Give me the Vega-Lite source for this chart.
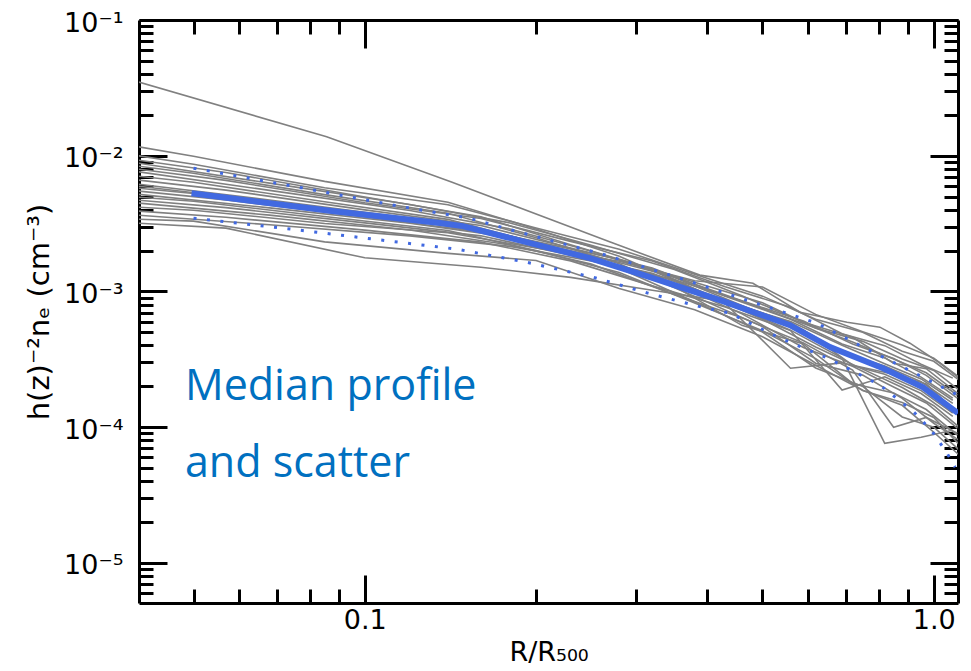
{
  "$schema": "https://vega.github.io/schema/vega-lite/v6.json",
  "width": 819,
  "height": 583,
  "autosize": {"type": "none"},
  "padding": {"left": 139, "top": 20, "right": 13, "bottom": 68},
  "background": "white",
  "config": {
    "view": {"stroke": null},
    "axis": {
      "grid": false,
      "domainColor": "black",
      "domainWidth": 3,
      "tickColor": "black",
      "tickWidth": 3,
      "labelColor": "black",
      "titleColor": "black",
      "labelFont": "DejaVu Sans",
      "titleFont": "DejaVu Sans",
      "labelFontSize": 27,
      "titleFontSize": 27,
      "titleFontWeight": "normal",
      "labelFlush": false,
      "labelOverlap": false,
      "zindex": 1
    }
  },
  "datasets": {
    "profiles": [
      {"p":0,"x":0.04,"y":3.5e-2},{"p":0,"x":0.0857,"y":1.38e-2},{"p":0,"x":0.142,"y":6.4e-3},{"p":0,"x":0.27,"y":2.31e-3},{"p":0,"x":0.388,"y":1.32e-3},{"p":0,"x":0.481,"y":1.15e-3},{"p":0,"x":0.582,"y":7.04e-4},{"p":0,"x":0.704,"y":5.94e-4},{"p":0,"x":0.804,"y":5.46e-4},{"p":0,"x":0.908,"y":4.16e-4},{"p":0,"x":1.026,"y":2.96e-4},{"p":0,"x":1.12,"y":2.22e-4},
      {"p":1,"x":0.04,"y":1.0e-2},{"p":1,"x":0.05,"y":8.65e-3},{"p":1,"x":0.085,"y":5.81e-3},{"p":1,"x":0.14,"y":4.35e-3},{"p":1,"x":0.2,"y":2.94e-3},{"p":1,"x":0.28,"y":2.05e-3},{"p":1,"x":0.38,"y":1.34e-3},{"p":1,"x":0.5,"y":9.24e-4},{"p":1,"x":0.62,"y":6.25e-4},{"p":1,"x":0.75,"y":5.01e-4},{"p":1,"x":0.88,"y":3.63e-4},{"p":1,"x":1.0,"y":3.06e-4},{"p":1,"x":1.12,"y":2.15e-4},
      {"p":2,"x":0.04,"y":9.28e-3},{"p":2,"x":0.057,"y":7.52e-3},{"p":2,"x":0.1,"y":4.97e-3},{"p":2,"x":0.16,"y":3.55e-3},{"p":2,"x":0.23,"y":2.21e-3},{"p":2,"x":0.32,"y":1.46e-3},{"p":2,"x":0.43,"y":8.28e-4},{"p":2,"x":0.56,"y":5.19e-4},{"p":2,"x":0.69,"y":3.23e-4},{"p":2,"x":0.82,"y":7.62e-5},{"p":2,"x":0.95,"y":8.44e-5},{"p":2,"x":1.08,"y":9.5e-5},
      {"p":3,"x":0.04,"y":8.82e-3},{"p":3,"x":0.068,"y":6.28e-3},{"p":3,"x":0.12,"y":4.37e-3},{"p":3,"x":0.18,"y":3.2e-3},{"p":3,"x":0.25,"y":2.19e-3},{"p":3,"x":0.35,"y":1.45e-3},{"p":3,"x":0.46,"y":9.3e-4},{"p":3,"x":0.59,"y":5.94e-4},{"p":3,"x":0.72,"y":4.6e-4},{"p":3,"x":0.85,"y":2.96e-4},{"p":3,"x":0.97,"y":2.7e-4},{"p":3,"x":1.1,"y":1.78e-4},
      {"p":4,"x":0.04,"y":8.38e-3},{"p":4,"x":0.05,"y":7.42e-3},{"p":4,"x":0.085,"y":5.17e-3},{"p":4,"x":0.14,"y":3.77e-3},{"p":4,"x":0.2,"y":2.49e-3},{"p":4,"x":0.28,"y":1.6e-3},{"p":4,"x":0.38,"y":9.17e-4},{"p":4,"x":0.5,"y":5.51e-4},{"p":4,"x":0.62,"y":2.96e-4},{"p":4,"x":0.75,"y":2.42e-4},{"p":4,"x":0.88,"y":1.63e-4},{"p":4,"x":1.0,"y":1.07e-4},{"p":4,"x":1.12,"y":7.76e-5},
      {"p":5,"x":0.04,"y":7.97e-3},{"p":5,"x":0.057,"y":6.58e-3},{"p":5,"x":0.1,"y":4.5e-3},{"p":5,"x":0.16,"y":3.45e-3},{"p":5,"x":0.23,"y":2.34e-3},{"p":5,"x":0.32,"y":1.68e-3},{"p":5,"x":0.43,"y":1.085e-3},{"p":5,"x":0.56,"y":7.66e-4},{"p":5,"x":0.69,"y":4.89e-4},{"p":5,"x":0.82,"y":3.99e-4},{"p":5,"x":0.95,"y":2.91e-4},{"p":5,"x":1.08,"y":2.3e-4},
      {"p":6,"x":0.04,"y":7.61e-3},{"p":6,"x":0.068,"y":5.56e-3},{"p":6,"x":0.12,"y":3.95e-3},{"p":6,"x":0.18,"y":2.89e-3},{"p":6,"x":0.25,"y":1.98e-3},{"p":6,"x":0.35,"y":1.27e-3},{"p":6,"x":0.46,"y":7.87e-4},{"p":6,"x":0.59,"y":5.2e-4},{"p":6,"x":0.72,"y":2.86e-4},{"p":6,"x":0.85,"y":2.46e-4},{"p":6,"x":0.97,"y":2.08e-4},{"p":6,"x":1.1,"y":1.27e-4},
      {"p":7,"x":0.04,"y":7.07e-3},{"p":7,"x":0.05,"y":6.37e-3},{"p":7,"x":0.085,"y":4.58e-3},{"p":7,"x":0.14,"y":3.4e-3},{"p":7,"x":0.2,"y":2.28e-3},{"p":7,"x":0.28,"y":1.48e-3},{"p":7,"x":0.38,"y":8.41e-4},{"p":7,"x":0.5,"y":5.02e-4},{"p":7,"x":0.62,"y":2.73e-4},{"p":7,"x":0.75,"y":2.0e-4},{"p":7,"x":0.88,"y":1.19e-4},{"p":7,"x":1.0,"y":1.0e-4},{"p":7,"x":1.12,"y":6.54e-5},
      {"p":8,"x":0.04,"y":6.62e-3},{"p":8,"x":0.057,"y":5.58e-3},{"p":8,"x":0.1,"y":3.99e-3},{"p":8,"x":0.16,"y":3.06e-3},{"p":8,"x":0.23,"y":2.09e-3},{"p":8,"x":0.32,"y":1.49e-3},{"p":8,"x":0.43,"y":9.24e-4},{"p":8,"x":0.56,"y":6.25e-4},{"p":8,"x":0.69,"y":4.11e-4},{"p":8,"x":0.82,"y":3.24e-4},{"p":8,"x":0.95,"y":2.34e-4},{"p":8,"x":1.08,"y":1.64e-4},
      {"p":9,"x":0.04,"y":6.18e-3},{"p":9,"x":0.068,"y":4.72e-3},{"p":9,"x":0.12,"y":3.47e-3},{"p":9,"x":0.18,"y":2.57e-3},{"p":9,"x":0.25,"y":1.77e-3},{"p":9,"x":0.35,"y":1.14e-3},{"p":9,"x":0.46,"y":6.84e-4},{"p":9,"x":0.59,"y":3.87e-4},{"p":9,"x":0.72,"y":2.81e-4},{"p":9,"x":0.85,"y":1.98e-4},{"p":9,"x":0.97,"y":1.51e-4},{"p":9,"x":1.1,"y":9.83e-5},
      {"p":10,"x":0.04,"y":5.77e-3},{"p":10,"x":0.05,"y":5.27e-3},{"p":10,"x":0.085,"y":3.98e-3},{"p":10,"x":0.14,"y":3.2e-3},{"p":10,"x":0.2,"y":2.33e-3},{"p":10,"x":0.28,"y":1.73e-3},{"p":10,"x":0.38,"y":1.17e-3},{"p":10,"x":0.5,"y":8.27e-4},{"p":10,"x":0.62,"y":5.39e-4},{"p":10,"x":0.75,"y":4.29e-4},{"p":10,"x":0.88,"y":3.18e-4},{"p":10,"x":1.0,"y":2.62e-4},{"p":10,"x":1.12,"y":1.81e-4},
      {"p":11,"x":0.04,"y":5.49e-3},{"p":11,"x":0.057,"y":4.73e-3},{"p":11,"x":0.1,"y":3.54e-3},{"p":11,"x":0.16,"y":2.74e-3},{"p":11,"x":0.23,"y":1.89e-3},{"p":11,"x":0.32,"y":1.34e-3},{"p":11,"x":0.43,"y":8.15e-4},{"p":11,"x":0.56,"y":2.72e-4},{"p":11,"x":0.69,"y":2.98e-4},{"p":11,"x":0.82,"y":2.46e-4},{"p":11,"x":0.95,"y":1.86e-4},{"p":11,"x":1.08,"y":1.27e-4},
      {"p":12,"x":0.04,"y":5.2e-3},{"p":12,"x":0.068,"y":4.13e-3},{"p":12,"x":0.12,"y":3.18e-3},{"p":12,"x":0.18,"y":2.51e-3},{"p":12,"x":0.25,"y":1.85e-3},{"p":12,"x":0.35,"y":1.28e-3},{"p":12,"x":0.46,"y":8.55e-4},{"p":12,"x":0.59,"y":6.06e-4},{"p":12,"x":0.72,"y":4.1e-4},{"p":12,"x":0.85,"y":3.21e-4},{"p":12,"x":0.97,"y":2.41e-4},{"p":12,"x":1.1,"y":1.64e-4},
      {"p":13,"x":0.04,"y":4.95e-3},{"p":13,"x":0.05,"y":4.62e-3},{"p":13,"x":0.085,"y":3.57e-3},{"p":13,"x":0.14,"y":2.81e-3},{"p":13,"x":0.2,"y":2.0e-3},{"p":13,"x":0.28,"y":1.38e-3},{"p":13,"x":0.38,"y":8.22e-4},{"p":13,"x":0.5,"y":5.14e-4},{"p":13,"x":0.62,"y":3.2e-4},{"p":13,"x":0.75,"y":1.86e-4},{"p":13,"x":0.88,"y":1.52e-4},{"p":13,"x":1.0,"y":1.18e-4},{"p":13,"x":1.12,"y":7.12e-5},
      {"p":14,"x":0.04,"y":4.7e-3},{"p":14,"x":0.057,"y":4.15e-3},{"p":14,"x":0.1,"y":3.2e-3},{"p":14,"x":0.16,"y":2.57e-3},{"p":14,"x":0.23,"y":1.85e-3},{"p":14,"x":0.32,"y":1.36e-3},{"p":14,"x":0.43,"y":8.6e-4},{"p":14,"x":0.56,"y":5.89e-4},{"p":14,"x":0.69,"y":3.55e-4},{"p":14,"x":0.82,"y":2.82e-4},{"p":14,"x":0.95,"y":2.16e-4},{"p":14,"x":1.08,"y":1.5e-4},
      {"p":15,"x":0.04,"y":4.48e-3},{"p":15,"x":0.068,"y":3.65e-3},{"p":15,"x":0.12,"y":2.84e-3},{"p":15,"x":0.18,"y":2.2e-3},{"p":15,"x":0.25,"y":1.59e-3},{"p":15,"x":0.35,"y":9.5e-4},{"p":15,"x":0.46,"y":6.4e-4},{"p":15,"x":0.59,"y":4.18e-4},{"p":15,"x":0.72,"y":2.64e-4},{"p":15,"x":0.85,"y":1.0e-4},{"p":15,"x":0.97,"y":1.18e-4},{"p":15,"x":1.1,"y":9.03e-5},
      {"p":16,"x":0.04,"y":4.18e-3},{"p":16,"x":0.05,"y":3.97e-3},{"p":16,"x":0.085,"y":3.17e-3},{"p":16,"x":0.14,"y":2.71e-3},{"p":16,"x":0.2,"y":2.09e-3},{"p":16,"x":0.28,"y":1.67e-3},{"p":16,"x":0.38,"y":1.2e-3},{"p":16,"x":0.5,"y":1.08e-3},{"p":16,"x":0.62,"y":6.78e-4},{"p":16,"x":0.75,"y":5.05e-4},{"p":16,"x":0.88,"y":4.04e-4},{"p":16,"x":1.0,"y":3.23e-4},{"p":16,"x":1.12,"y":2.26e-4},
      {"p":17,"x":0.04,"y":3.91e-3},{"p":17,"x":0.057,"y":3.52e-3},{"p":17,"x":0.1,"y":2.83e-3},{"p":17,"x":0.16,"y":2.31e-3},{"p":17,"x":0.23,"y":1.68e-3},{"p":17,"x":0.32,"y":1.1e-3},{"p":17,"x":0.43,"y":7.7e-4},{"p":17,"x":0.56,"y":5.15e-4},{"p":17,"x":0.69,"y":1.88e-4},{"p":17,"x":0.82,"y":2.35e-4},{"p":17,"x":0.95,"y":1.77e-4},{"p":17,"x":1.08,"y":1.2e-4},
      {"p":18,"x":0.04,"y":3.65e-3},{"p":18,"x":0.068,"y":3.1e-3},{"p":18,"x":0.12,"y":2.57e-3},{"p":18,"x":0.18,"y":2.15e-3},{"p":18,"x":0.25,"y":1.68e-3},{"p":18,"x":0.35,"y":1.22e-3},{"p":18,"x":0.46,"y":8.52e-4},{"p":18,"x":0.59,"y":5.8e-4},{"p":18,"x":0.72,"y":4.25e-4},{"p":18,"x":0.85,"y":3.18e-4},{"p":18,"x":0.97,"y":2.52e-4},{"p":18,"x":1.1,"y":1.72e-4},
      {"p":19,"x":0.04,"y":3.41e-3},{"p":19,"x":0.05,"y":3.3e-3},{"p":19,"x":0.085,"y":2.32e-3},{"p":19,"x":0.14,"y":1.91e-3},{"p":19,"x":0.2,"y":1.69e-3},{"p":19,"x":0.28,"y":1.05e-3},{"p":19,"x":0.38,"y":7.33e-4},{"p":19,"x":0.5,"y":4.64e-4},{"p":19,"x":0.62,"y":2.86e-4},{"p":19,"x":0.75,"y":1.87e-4},{"p":19,"x":0.88,"y":1.45e-4},{"p":19,"x":1.0,"y":9.18e-5},{"p":19,"x":1.12,"y":6.0e-5},
      {"p":20,"x":0.04,"y":3.18e-3},{"p":20,"x":0.057,"y":2.93e-3},{"p":20,"x":0.1,"y":1.77e-3},{"p":20,"x":0.16,"y":1.51e-3},{"p":20,"x":0.23,"y":1.27e-3},{"p":20,"x":0.32,"y":1.02e-3},{"p":20,"x":0.43,"y":8.46e-4},{"p":20,"x":0.56,"y":6.0e-4},{"p":20,"x":0.69,"y":4.01e-4},{"p":20,"x":0.82,"y":2.94e-4},{"p":20,"x":0.95,"y":2.27e-4},{"p":20,"x":1.08,"y":1.58e-4},
      {"p":21,"x":0.04,"y":5.97e-3},{"p":21,"x":0.068,"y":4.6e-3},{"p":21,"x":0.12,"y":3.38e-3},{"p":21,"x":0.18,"y":2.5e-3},{"p":21,"x":0.25,"y":1.72e-3},{"p":21,"x":0.35,"y":1.09e-3},{"p":21,"x":0.46,"y":5.63e-4},{"p":21,"x":0.59,"y":4.11e-4},{"p":21,"x":0.72,"y":2.1e-4},{"p":21,"x":0.85,"y":1.79e-4},{"p":21,"x":0.97,"y":1.35e-4},{"p":21,"x":1.1,"y":8.74e-5},
      {"p":22,"x":0.04,"y":1.165e-2},{"p":22,"x":0.05,"y":9.9e-3},{"p":22,"x":0.085,"y":6.47e-3},{"p":22,"x":0.14,"y":4.55e-3},{"p":22,"x":0.2,"y":2.89e-3},{"p":22,"x":0.28,"y":1.82e-3},{"p":22,"x":0.38,"y":1.04e-3},{"p":22,"x":0.5,"y":6.25e-4},{"p":22,"x":0.62,"y":3.9e-4},{"p":22,"x":0.75,"y":2.68e-4},{"p":22,"x":0.88,"y":1.96e-4},{"p":22,"x":1.0,"y":1.44e-4},{"p":22,"x":1.12,"y":9.66e-5}
    ],
    "median": [
      {"x":0.0496,"y":5.3e-3},{"x":0.0875,"y":3.91e-3},{"x":0.1355,"y":3.19e-3},{"x":0.1487,"y":3.03e-3},{"x":0.1777,"y":2.51e-3},{"x":0.2486,"y":1.76e-3},{"x":0.317,"y":1.274e-3},{"x":0.4209,"y":8.63e-4},{"x":0.5588,"y":5.65e-4},{"x":0.6571,"y":3.89e-4},{"x":0.8144,"y":2.72e-4},{"x":0.9576,"y":1.97e-4},{"x":1.103,"y":1.27e-4}
    ],
    "scatter": [
      {"band":"upper","x":0.05,"y":8.1e-3},{"band":"upper","x":0.0781,"y":5.77e-3},{"band":"upper","x":0.1148,"y":4.25e-3},{"band":"upper","x":0.1524,"y":3.47e-3},{"band":"upper","x":0.1896,"y":2.69e-3},{"band":"upper","x":0.2622,"y":1.88e-3},{"band":"upper","x":0.3624,"y":1.232e-3},{"band":"upper","x":0.4753,"y":8.48e-4},{"band":"upper","x":0.6233,"y":5.84e-4},{"band":"upper","x":0.7633,"y":3.76e-4},{"band":"upper","x":0.927,"y":2.5e-4},{"band":"upper","x":1.103,"y":1.72e-4},
      {"band":"lower","x":0.05,"y":3.47e-3},{"band":"lower","x":0.0741,"y":2.88e-3},{"band":"lower","x":0.1037,"y":2.43e-3},{"band":"lower","x":0.1451,"y":2.05e-3},{"band":"lower","x":0.1927,"y":1.64e-3},{"band":"lower","x":0.2517,"y":1.274e-3},{"band":"lower","x":0.3145,"y":9.72e-4},{"band":"lower","x":0.3914,"y":7.66e-4},{"band":"lower","x":0.4384,"y":6.92e-4},{"band":"lower","x":0.5323,"y":4.61e-4},{"band":"lower","x":0.6571,"y":3.17e-4},{"band":"lower","x":0.8048,"y":2.04e-4},{"band":"lower","x":0.9196,"y":1.31e-4},{"band":"lower","x":0.9931,"y":9.34e-5},{"band":"lower","x":1.0554,"y":6.43e-5},{"band":"lower","x":1.09,"y":5.07e-5}
    ],
    "note": [
      {"x":0.0483,"y":1.58e-4,"label":"Median profile\nand scatter"}
    ]
  },
  "layer": [
    {
      "data": {"name": "profiles"},
      "mark": {"type": "line", "color": "#808080", "strokeWidth": 1.6, "clip": true},
      "encoding": {
        "x": {"field": "x", "type": "quantitative",
          "scale": {"type": "log", "domain": [0.0401, 1.103], "nice": false},
          "axis": {"orient": "bottom", "values": [0.1, 1], "format": ".1f", "tickSize": -28, "labelPadding": 32, "title": "R/R₅₀₀", "titleY": 57, "titleBaseline": "alphabetic"}},
        "y": {"field": "y", "type": "quantitative",
          "scale": {"type": "log", "domain": [5.07e-6, 0.1], "nice": false},
          "axis": {"orient": "left", "values": [1e-5, 1e-4, 1e-3, 1e-2, 1e-1],
            "labelExpr": "datum.value > 0.05 ? '10⁻¹' : datum.value > 0.005 ? '10⁻²' : datum.value > 0.0005 ? '10⁻³' : datum.value > 0.00005 ? '10⁻⁴' : '10⁻⁵'",
            "tickSize": -28, "labelPadding": 44, "labelOffset": 3, "title": "h(z)⁻²nₑ (cm⁻³)", "titleFontSize": 29, "titleX": -100, "titleY": 291.5, "titleBaseline": "middle", "titleAngle": -90, "titleAlign": "center"}},
        "detail": {"field": "p", "type": "nominal"}
      }
    },
    {
      "data": {"name": "median"},
      "mark": {"type": "line", "color": "#4169E1", "strokeWidth": 6, "clip": true},
      "encoding": {
        "x": {"field": "x", "type": "quantitative",
          "scale": {"type": "log", "domain": [0.0401, 1.103], "nice": false},
          "axis": {"orient": "bottom", "values": [0.05, 0.06, 0.07, 0.08, 0.09, 0.2, 0.3, 0.4, 0.5, 0.6, 0.7, 0.8, 0.9], "labels": false, "domain": false, "tickSize": -14, "title": null}},
        "y": {"field": "y", "type": "quantitative",
          "scale": {"type": "log", "domain": [5.07e-6, 0.1], "nice": false},
          "axis": {"orient": "left", "values": [6e-6, 7e-6, 8e-6, 9e-6, 2e-5, 3e-5, 4e-5, 5e-5, 6e-5, 7e-5, 8e-5, 9e-5, 2e-4, 3e-4, 4e-4, 5e-4, 6e-4, 7e-4, 8e-4, 9e-4, 2e-3, 3e-3, 4e-3, 5e-3, 6e-3, 7e-3, 8e-3, 9e-3, 2e-2, 3e-2, 4e-2, 5e-2, 6e-2, 7e-2, 8e-2, 9e-2], "labels": false, "domain": false, "tickSize": -14, "title": null}}
      }
    },
    {
      "data": {"name": "scatter"},
      "mark": {"type": "line", "color": "#4169E1", "strokeWidth": 3, "strokeDash": [3, 10.5], "clip": true},
      "encoding": {
        "x": {"field": "x", "type": "quantitative",
          "scale": {"type": "log", "domain": [0.0401, 1.103], "nice": false},
          "axis": {"orient": "top", "values": [0.1, 1], "labels": false, "tickSize": -28, "title": null}},
        "y": {"field": "y", "type": "quantitative",
          "scale": {"type": "log", "domain": [5.07e-6, 0.1], "nice": false},
          "axis": {"orient": "right", "values": [1e-5, 1e-4, 1e-3, 1e-2, 1e-1], "labels": false, "tickSize": -28, "title": null}},
        "detail": {"field": "band", "type": "nominal"}
      }
    },
    {
      "data": {"name": "note"},
      "mark": {"type": "text", "align": "left", "baseline": "alphabetic", "font": "Open Sans", "fontSize": 43, "color": "#0070C0", "lineBreak": "\n", "lineHeight": 77},
      "encoding": {
        "x": {"field": "x", "type": "quantitative",
          "scale": {"type": "log", "domain": [0.0401, 1.103], "nice": false},
          "axis": {"orient": "top", "values": [0.05, 0.06, 0.07, 0.08, 0.09, 0.2, 0.3, 0.4, 0.5, 0.6, 0.7, 0.8, 0.9], "labels": false, "domain": false, "tickSize": -14, "title": null}},
        "y": {"field": "y", "type": "quantitative",
          "scale": {"type": "log", "domain": [5.07e-6, 0.1], "nice": false},
          "axis": {"orient": "right", "values": [6e-6, 7e-6, 8e-6, 9e-6, 2e-5, 3e-5, 4e-5, 5e-5, 6e-5, 7e-5, 8e-5, 9e-5, 2e-4, 3e-4, 4e-4, 5e-4, 6e-4, 7e-4, 8e-4, 9e-4, 2e-3, 3e-3, 4e-3, 5e-3, 6e-3, 7e-3, 8e-3, 9e-3, 2e-2, 3e-2, 4e-2, 5e-2, 6e-2, 7e-2, 8e-2, 9e-2], "labels": false, "domain": false, "tickSize": -14, "title": null}},
        "text": {"field": "label", "type": "nominal"}
      }
    }
  ],
  "resolve": {"axis": {"x": "independent", "y": "independent"}}
}
